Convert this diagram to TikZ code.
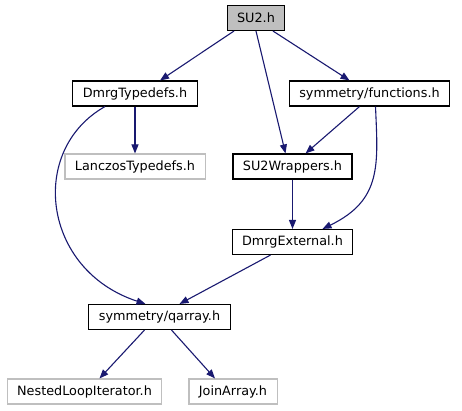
\documentclass[tikz,border=0pt]{standalone}
\usepackage{fontspec}
\setmainfont{DejaVu Sans}
\definecolor{edgeblue}{HTML}{191970}
\definecolor{headgrey}{HTML}{BFBFBF}
\usepackage{tikz}
\usetikzlibrary{arrows.meta, positioning}

\begin{document}
\begin{tikzpicture}[
  x=1pt, y=-1pt,
  file/.style={draw=black, line width=1.1pt, fill=white, minimum height=25pt,
               inner xsep=10pt, inner ysep=0pt,
               font=\fontsize{12.8}{14}\selectfont},
  ext/.style={file, draw=headgrey},
  dep/.style={-{Triangle[length=9pt, width=7pt]}, line width=1.1pt, edgeblue}
]
\useasboundingbox (0,0) rectangle (462,411);
% files
\node[file, fill=headgrey] (su)  at (256,18)    {SU2.h};
\node[file] (dtd) at (135,93.5)  {DmrgTypedefs.h};
\node[file] (fun) at (369.5,93.5) {symmetry/functions.h};
\node[ext]  (lts) at (135,166.5) {LanczosTypedefs.h};
\node[file] (swr) at (292.5,166.5) {SU2Wrappers.h};
\node[file] (dex) at (292.5,242) {DmrgExternal.h};
\node[file] (qar) at (159.5,317) {symmetry/qarray.h};
\node[ext]  (nli) at (84.5,391.5) {NestedLoopIterator.h};
\node[ext]  (jar) at (233,391.5) {JoinArray.h};
% includes
\draw[dep] ([xshift=-22pt]su.south) -- ([xshift=25pt]dtd.north);
\draw[dep] (su.south) -- ([xshift=-7pt]swr.north);
\draw[dep] ([xshift=17pt]su.south) -- ([xshift=-20pt]fun.north);
\draw[dep] (dtd) -- (lts);
\draw[dep] ([xshift=-30pt]dtd.south) .. controls (28,150) and (42,270) .. ([xshift=-14pt]qar.north);
\draw[dep] ([xshift=-10pt]fun.south) -- ([xshift=13pt]swr.north);
\draw[dep] ([xshift=6pt]fun.south) .. controls (378,165) and (382,200) .. ([xshift=30pt]dex.north);
\draw[dep] (swr) -- (dex);
\draw[dep] ([xshift=-22pt]dex.south) -- ([xshift=20pt]qar.north);
\draw[dep] ([xshift=-15pt]qar.south) -- ([xshift=15pt]nli.north);
\draw[dep] ([xshift=12pt]qar.south) -- ([xshift=-18pt]jar.north);
\end{tikzpicture}
\end{document}
